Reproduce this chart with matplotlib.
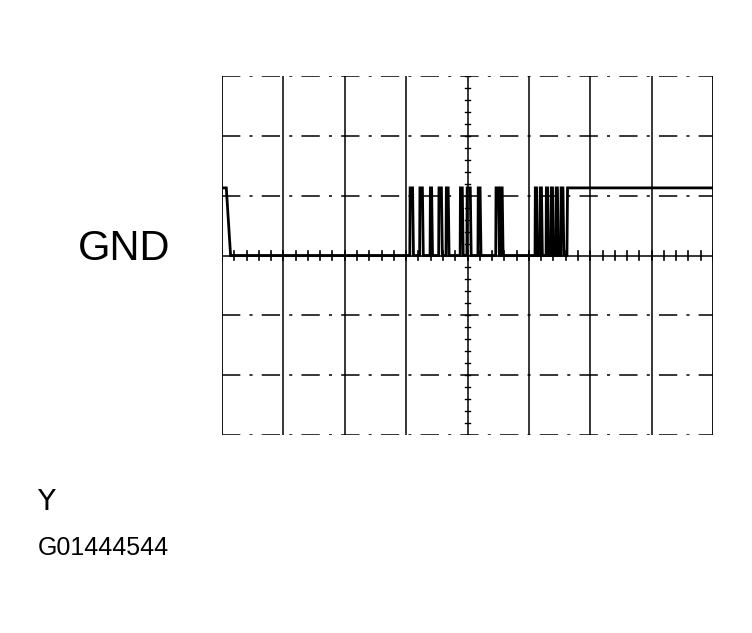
import matplotlib
matplotlib.use("Agg")
import matplotlib.pyplot as plt
import numpy as np

# ---- data (time in divisions, level in divisions above GND) ----
high_level = 1.13
low_level = 0.0
start_high_end = 0.07
start_fall_end = 0.14
pulse_rise = [3.06, 3.22, 3.39, 3.53, 3.65, 3.88, 3.99, 4.17, 4.46, 4.54,
              5.10, 5.18, 5.28, 5.36, 5.44, 5.52]
pulse_fall = [3.12, 3.28, 3.43, 3.59, 3.70, 3.93, 4.06, 4.22, 4.52, 4.58,
              5.14, 5.22, 5.32, 5.40, 5.48, 5.57]
final_rise = 5.62
x_divs = 8
y_divs = [-3, 3]
label_gnd = "GND"
label_y = "Y"
label_code = "G01444544"

# ---- build trace ----
tx = [0.0, start_high_end, start_fall_end]
ty = [high_level, high_level, low_level]
for r, f in zip(pulse_rise, pulse_fall):
    tx += [r, r + 0.005, f - 0.015, f]
    ty += [low_level, high_level, high_level, low_level]
tx += [final_rise, final_rise + 0.01, x_divs]
ty += [low_level, high_level, high_level]

fig = plt.figure(figsize=(7.52, 6.33), dpi=100)
ax = fig.add_axes([222/752, 1 - 435/633, 491/752, 359/633])
ax.set_xlim(0, x_divs)
ax.set_ylim(y_divs[0], y_divs[1])
ax.axis("off")

# grid: vertical solid lines
for xv in range(0, x_divs + 1):
    ax.axvline(xv, color="black", lw=1.3 if xv in (0, x_divs) else 1.1)
# horizontal dashed lines
for yv in range(y_divs[0], y_divs[1] + 1):
    if yv == 0:
        ax.axhline(yv, color="black", lw=1.1)
    else:
        ax.axhline(yv, color="black", lw=1.1, ls=(0, (12, 6, 2, 6)))

# center-axis ticks
for k in np.arange(y_divs[0], y_divs[1] + 0.01, 0.2):
    ax.plot([3.96, 4.04], [k, k], color="black", lw=1.0)
for k in np.arange(0, x_divs + 0.01, 0.2):
    ax.plot([k, k], [-0.07, 0.07], color="black", lw=1.2)

# trace
ax.plot(tx, ty, color="black", lw=2.0, solid_joinstyle="miter")

# texts
fig.text(78/752, 1 - 249/633, label_gnd, fontsize=30, family="Liberation Sans",
         va="center", ha="left")
fig.text(37/752, 1 - 502/633, label_y, fontsize=21, family="DejaVu Sans",
         va="center", ha="left")
fig.text(38/752, 1 - 548/633, label_code, fontsize=18, family="Liberation Sans",
         va="center", ha="left")

fig.savefig("out.png", dpi=100, facecolor="white")
